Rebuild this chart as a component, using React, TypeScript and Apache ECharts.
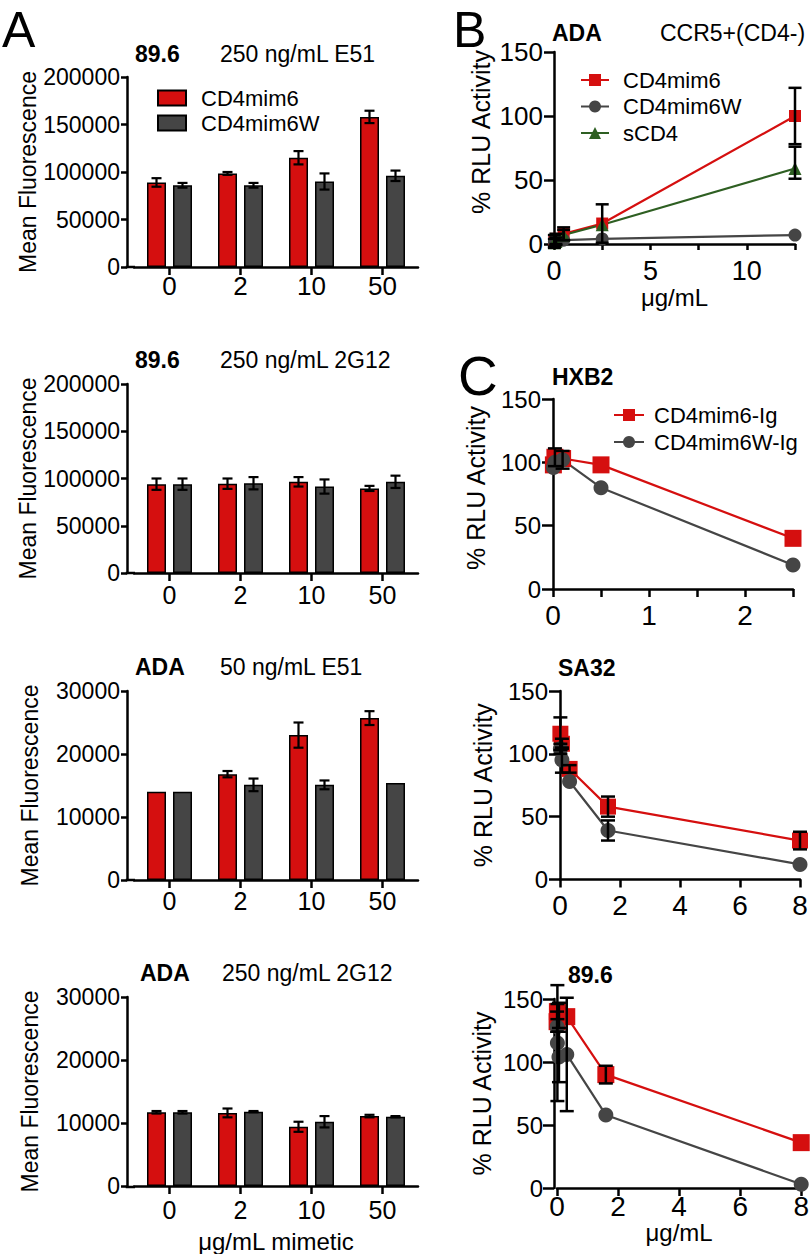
import React, { useEffect, useRef } from 'react';
import * as echarts from 'echarts';

const RED = '#d50f0f';
const GRAY = '#454545';
const GREEN = '#2e5f22';
const FONT = 'Liberation Sans, Arial, Helvetica, sans-serif';

// ---------- Panel A (bar charts) ----------
const doseCats = ['0', '2', '10', '50'];
const a1Mim6 = [89000, 98500, 115000, 158000];
const a1Mim6Err = [4500, 1500, 7000, 6500];
const a1Mim6W = [86000, 86000, 90000, 96000];
const a1Mim6WErr = [2500, 2500, 8500, 5500];

const a2Mim6 = [94000, 94500, 96500, 89500];
const a2Mim6Err = [6000, 5500, 5000, 2700];
const a2Mim6W = [94000, 95000, 91500, 96500];
const a2Mim6WErr = [6000, 6500, 7500, 6500];

const a3Mim6 = [14000, 16800, 23000, 25700];
const a3Mim6Err = [0, 500, 2000, 1100];
const a3Mim6W = [14000, 15100, 15100, 15400];
const a3Mim6WErr = [0, 1000, 700, 0];

const a4Mim6 = [11700, 11600, 9400, 11100];
const a4Mim6Err = [200, 700, 800, 200];
const a4Mim6W = [11700, 11800, 10200, 11000];
const a4Mim6WErr = [200, 100, 900, 100];

// ---------- Panel B ----------
const bX = [0.02, 0.1, 0.5, 2.5, 12.5];
const bMim6 = [2, 4, 8, 16, 100];
const bMim6Err = [5, 4, 5, 15, 22];
const bMim6W = [2, 2, 3, 4, 7];
const bMim6WErr = [0, 0, 0, 0, 0];
const bSCD4 = [1, 2, 7, 15, 59];
const bSCD4Err = [3, 3, 4, 0, [8, 17]];

// ---------- Panel C ----------
const hxX = [0.004, 0.02, 0.1, 0.5, 2.5];
const hxMim6Ig = [98, 104, 103, 98, 40];
const hxMim6IgErr = [0, 7, 0, 0, 0];
const hxMim6WIg = [96, 100, 102, 80, 19];
const hxMim6WIgErr = [0, 0, 7, 0, 0];

const saX = [0.0128, 0.064, 0.32, 1.6, 8];
const saMim6Ig = [116, 108, 88, 58, 31];
const saMim6IgErr = [13, 4, 3, 8, 7];
const saMim6WIg = [104, 95, 78, 39, 12];
const saMim6WIgErr = [4, 10, 0, 8, 0];

const c3X = [0.00256, 0.0128, 0.064, 0.32, 1.6, 8];
const c3Mim6Ig = [132, 140, 137, 136, 90, 36];
const c3Mim6IgErr = [8, 6, 10, 0, 7, 0];
const c3Mim6WIg = [128, 115, 104, 106, 58, 3];
const c3Mim6WIgErr = [0, 46, 20, 45, 0, 0];

// ---------- styling / layout ----------
const AX = { color: '#000', width: 2.5 };
const BAR_W = 19;
const BAR_GAP = 7;

function errPair(e: any): [number, number] {
  if (Array.isArray(e)) return [e[0], e[1]];
  return [e, e];
}

function yAxisCfg(gridIndex: number, o: any) {
  return {
    type: 'value',
    gridIndex,
    min: o.min,
    max: o.max,
    interval: o.interval,
    offset: o.offset || 0,
    name: o.name,
    nameLocation: 'middle',
    nameGap: o.nameGap,
    nameTextStyle: { fontSize: o.nameFs, fontFamily: FONT, color: '#000', padding: o.namePad || 0 },
    axisLine: { show: true, onZero: false, lineStyle: AX },
    axisTick: { show: true, length: o.tickLen, lineStyle: AX },
    axisLabel: {
      fontSize: o.fs,
      fontFamily: FONT,
      color: '#000',
      margin: o.margin,
      formatter: (v: number) => String(v),
    },
    splitLine: { show: false },
  };
}

function catXAxis(gridIndex: number, o: any) {
  return {
    type: 'category',
    gridIndex,
    data: doseCats,
    name: o.name || '',
    nameLocation: 'middle',
    nameGap: o.nameGap || 0,
    nameTextStyle: { fontSize: 24, fontFamily: FONT, color: '#000' },
    axisLine: { show: true, onZero: false, lineStyle: AX },
    axisTick: { show: true, alignWithLabel: true, length: 8, lineStyle: AX },
    axisLabel: { fontSize: o.fs, fontFamily: FONT, color: '#000', margin: o.margin },
    splitLine: { show: false },
  };
}

function valXAxis(gridIndex: number, o: any) {
  return {
    type: 'value',
    gridIndex,
    min: o.min,
    max: o.max,
    interval: o.interval,
    name: o.name || '',
    nameLocation: 'middle',
    nameGap: o.nameGap || 0,
    nameTextStyle: { fontSize: 24, fontFamily: FONT, color: '#000' },
    axisLine: { show: true, onZero: false, lineStyle: AX },
    axisTick: { show: true, length: o.tickLen, lineStyle: AX },
    axisLabel: {
      fontSize: o.fs,
      fontFamily: FONT,
      color: '#000',
      margin: o.margin,
      formatter: (v: number) => (Math.abs(v / o.labelEvery - Math.round(v / o.labelEvery)) < 1e-6 ? String(v) : ''),
    },
    splitLine: { show: false },
  };
}

function barSeries(name: string, idx: number, vals: number[], color: string) {
  return {
    type: 'bar',
    name,
    xAxisIndex: idx,
    yAxisIndex: idx,
    data: vals,
    barWidth: BAR_W,
    barGap: (BAR_GAP / BAR_W) * 100 + '%',
    itemStyle: { color, borderColor: '#000', borderWidth: 1.5 },
    z: 2,
  };
}

function barErr(idx: number, vals: number[], errs: number[], side: number) {
  const off = (side * (BAR_W + BAR_GAP)) / 2;
  return {
    type: 'custom',
    xAxisIndex: idx,
    yAxisIndex: idx,
    silent: true,
    z: 5,
    data: vals.map((v, i) => [i, v, errs[i]]),
    renderItem: (_p: any, api: any) => {
      const c = api.value(0);
      const v = api.value(1);
      const e = api.value(2);
      if (!e) return null;
      const t = api.coord([c, v + e]);
      const b = api.coord([c, v - e]);
      const x = t[0] + off;
      const st = { stroke: '#000', lineWidth: 2.2 };
      const h = 5;
      return {
        type: 'group',
        children: [
          { type: 'line', shape: { x1: x, y1: t[1], x2: x, y2: b[1] }, style: st },
          { type: 'line', shape: { x1: x - h, y1: t[1], x2: x + h, y2: t[1] }, style: st },
          { type: 'line', shape: { x1: x - h, y1: b[1], x2: x + h, y2: b[1] }, style: st },
        ],
      };
    },
  };
}

function lineSeries(name: string, idx: number, xs: number[], ys: number[], color: string, symbol: string, size: number) {
  return {
    type: 'line',
    name,
    xAxisIndex: idx,
    yAxisIndex: idx,
    data: xs.map((x, i) => [x, ys[i]]),
    symbol,
    symbolSize: size,
    showAllSymbol: true,
    itemStyle: { color, opacity: 1 },
    lineStyle: { color, width: 2.2 },
    z: 3,
  };
}

function lineErr(idx: number, xs: number[], ys: number[], errs: any[], cap: number) {
  const data: any[] = [];
  xs.forEach((x, i) => {
    const [d, u] = errPair(errs[i]);
    if (d || u) data.push([x, ys[i], ys[i] - d, ys[i] + u]);
  });
  return {
    type: 'custom',
    xAxisIndex: idx,
    yAxisIndex: idx,
    silent: true,
    z: 6,
    clip: false,
    data,
    renderItem: (_p: any, api: any) => {
      const x = api.value(0);
      const lo = api.value(2);
      const hi = api.value(3);
      const t = api.coord([x, hi]);
      const b = api.coord([x, lo]);
      const st = { stroke: '#000', lineWidth: 2.5 };
      const h = cap / 2;
      return {
        type: 'group',
        children: [
          { type: 'line', shape: { x1: t[0], y1: t[1], x2: b[0], y2: b[1] }, style: st },
          { type: 'line', shape: { x1: t[0] - h, y1: t[1], x2: t[0] + h, y2: t[1] }, style: st },
          { type: 'line', shape: { x1: b[0] - h, y1: b[1], x2: b[0] + h, y2: b[1] }, style: st },
        ],
      };
    },
  };
}

function txt(text: string, x: number, y: number, size: number, bold = false) {
  return {
    type: 'text',
    x,
    y,
    silent: true,
    style: {
      text,
      fill: '#000',
      fontSize: size,
      fontWeight: bold ? 'bold' : 'normal',
      fontFamily: FONT,
      verticalAlign: 'middle',
      align: 'left',
    },
  };
}

export default function App() {
  const ref = useRef<HTMLDivElement>(null);

  useEffect(() => {
    if (!ref.current) return;
    const chart = echarts.init(ref.current, undefined, { renderer: 'svg' });

    // grids: 0..3 panel A, 4 panel B, 5..7 panel C
    const grid = [
      { left: 134, top: 77, width: 284, height: 190 },
      { left: 134, top: 384, width: 284, height: 189 },
      { left: 134, top: 691, width: 284, height: 189 },
      { left: 134, top: 997, width: 284, height: 190 },
      { left: 554, top: 52, width: 241, height: 192 },
      { left: 553, top: 399, width: 240, height: 190 },
      { left: 560, top: 691, width: 240, height: 188.5 },
      { left: 557, top: 999, width: 246, height: 189 },
    ];

    const mf = 'Mean Fluorescence';
    const rlu = '% RLU Activity';
    const yAxis = [
      yAxisCfg(0, { min: 0, max: 200000, interval: 50000, offset: 7, name: mf, nameGap: 86, nameFs: 23, fs: 23, tickLen: 6, margin: 7 }),
      yAxisCfg(1, { min: 0, max: 200000, interval: 50000, offset: 7, name: mf, nameGap: 86, nameFs: 23, fs: 23, tickLen: 6, margin: 7 }),
      yAxisCfg(2, { min: 0, max: 30000, interval: 10000, offset: 7, name: mf, nameGap: 86, nameFs: 23, fs: 23, tickLen: 6, margin: 7 }),
      yAxisCfg(3, { min: 0, max: 30000, interval: 10000, offset: 7, name: mf, nameGap: 86, nameFs: 23, fs: 23, tickLen: 6, margin: 7 }),
      yAxisCfg(4, { min: 0, max: 150, interval: 50, name: rlu, nameGap: 61, nameFs: 25, fs: 26, tickLen: 10, margin: 11, namePad: [0, 0, 0, 32] }),
      yAxisCfg(5, { min: 0, max: 150, interval: 50, name: rlu, nameGap: 65, nameFs: 25, fs: 24, tickLen: 11, margin: 12, namePad: [0, 0, 0, 12] }),
      yAxisCfg(6, { min: 0, max: 150, interval: 50, name: rlu, nameGap: 65, nameFs: 25, fs: 24, tickLen: 11, margin: 12 }),
      yAxisCfg(7, { min: 0, max: 150, interval: 50, offset: 3, name: rlu, nameGap: 60, nameFs: 25, fs: 24, tickLen: 11, margin: 11 }),
    ];

    const xAxis = [
      catXAxis(0, { fs: 26, margin: 6 }),
      catXAxis(1, { fs: 25, margin: 9 }),
      catXAxis(2, { fs: 25, margin: 8 }),
      catXAxis(3, { fs: 25, margin: 11, name: 'μg/mL mimetic', nameGap: 43 }),
      valXAxis(4, { min: 0, max: 12.5, interval: 2.5, labelEvery: 5, fs: 27, margin: 13, tickLen: 6, name: 'μg/mL', nameGap: 41 }),
      valXAxis(5, { min: 0, max: 2.5, interval: 0.5, labelEvery: 1, fs: 28, margin: 12, tickLen: 8 }),
      valXAxis(6, { min: 0, max: 8, interval: 2, labelEvery: 2, fs: 28, margin: 12, tickLen: 8 }),
      valXAxis(7, { min: 0, max: 8, interval: 2, labelEvery: 2, fs: 28, margin: 4, tickLen: 8, name: 'μg/mL', nameGap: 32 }),
    ];

    const series: any[] = [
      barSeries('CD4mim6', 0, a1Mim6, RED),
      barSeries('CD4mim6W', 0, a1Mim6W, GRAY),
      barSeries('CD4mim6', 1, a2Mim6, RED),
      barSeries('CD4mim6W', 1, a2Mim6W, GRAY),
      barSeries('CD4mim6', 2, a3Mim6, RED),
      barSeries('CD4mim6W', 2, a3Mim6W, GRAY),
      barSeries('CD4mim6', 3, a4Mim6, RED),
      barSeries('CD4mim6W', 3, a4Mim6W, GRAY),
      barErr(0, a1Mim6, a1Mim6Err, -1),
      barErr(0, a1Mim6W, a1Mim6WErr, 1),
      barErr(1, a2Mim6, a2Mim6Err, -1),
      barErr(1, a2Mim6W, a2Mim6WErr, 1),
      barErr(2, a3Mim6, a3Mim6Err, -1),
      barErr(2, a3Mim6W, a3Mim6WErr, 1),
      barErr(3, a4Mim6, a4Mim6Err, -1),
      barErr(3, a4Mim6W, a4Mim6WErr, 1),

      lineSeries('B|CD4mim6', 4, bX, bMim6, RED, 'rect', 12),
      lineSeries('B|CD4mim6W', 4, bX, bMim6W, GRAY, 'circle', 13),
      lineSeries('B|sCD4', 4, bX, bSCD4, GREEN, 'triangle', 13),
      lineErr(4, bX, bMim6, bMim6Err, 13),
      lineErr(4, bX, bMim6W, bMim6WErr, 13),
      lineErr(4, bX, bSCD4, bSCD4Err, 13),

      lineSeries('CD4mim6-Ig', 5, hxX, hxMim6Ig, RED, 'rect', 17),
      lineSeries('CD4mim6W-Ig', 5, hxX, hxMim6WIg, GRAY, 'circle', 15),
      lineErr(5, hxX, hxMim6Ig, hxMim6IgErr, 14),
      lineErr(5, hxX, hxMim6WIg, hxMim6WIgErr, 14),

      lineSeries('CD4mim6-Ig', 6, saX, saMim6Ig, RED, 'rect', 16),
      lineSeries('CD4mim6W-Ig', 6, saX, saMim6WIg, GRAY, 'circle', 15),
      lineErr(6, saX, saMim6Ig, saMim6IgErr, 14),
      lineErr(6, saX, saMim6WIg, saMim6WIgErr, 14),

      lineSeries('CD4mim6-Ig', 7, c3X, c3Mim6Ig, RED, 'rect', 17),
      lineSeries('CD4mim6W-Ig', 7, c3X, c3Mim6WIg, GRAY, 'circle', 15),
      lineErr(7, c3X, c3Mim6Ig, c3Mim6IgErr, 14),
      lineErr(7, c3X, c3Mim6WIg, c3Mim6WIgErr, 14),
    ];

    const legendText = { fontSize: 22, fontFamily: FONT, color: '#000' };
    const legend = [
      {
        data: ['CD4mim6', 'CD4mim6W'],
        left: 157,
        top: 87,
        orient: 'vertical',
        icon: 'rect',
        itemWidth: 28,
        itemHeight: 15,
        itemGap: 3,
        padding: 0,
        selectedMode: false,
        textStyle: { ...legendText, padding: [0, 0, 0, 10] },
      },
      {
        data: ['B|CD4mim6', 'B|CD4mim6W', 'B|sCD4'],
        formatter: (n: string) => n.split('|')[1],
        left: 580,
        top: 69,
        orient: 'vertical',
        itemWidth: 28,
        itemHeight: 15,
        itemGap: 4.5,
        padding: 0,
        selectedMode: false,
        textStyle: { ...legendText, padding: [0, 0, 0, 9] },
      },
      {
        data: ['CD4mim6-Ig', 'CD4mim6W-Ig'],
        left: 613,
        top: 404,
        orient: 'vertical',
        itemWidth: 30,
        itemHeight: 15,
        itemGap: 5,
        padding: 0,
        selectedMode: false,
        textStyle: { ...legendText, padding: [0, 0, 0, 5] },
      },
    ];

    const cornerLine = (y: number) => ({
      type: 'line',
      silent: true,
      shape: { x1: 125.75, y1: y, x2: 135, y2: y },
      style: { stroke: '#000', lineWidth: 2.5 },
    });

    const graphic = [
      txt('A', 2, 30, 50),
      txt('B', 453, 30, 50),
      txt('C', 458, 376, 55),
      txt('89.6', 135, 54, 23, true),
      txt('250 ng/mL E51', 220, 54, 23),
      txt('89.6', 135, 360, 23, true),
      txt('250 ng/mL 2G12', 220, 360, 23),
      txt('ADA', 135, 667, 23, true),
      txt('50 ng/mL E51', 220, 667, 23),
      txt('ADA', 140, 973, 23, true),
      txt('250 ng/mL 2G12', 222, 973, 23),
      txt('ADA', 552, 33, 23, true),
      txt('CCR5+(CD4-)', 660, 33, 23),
      txt('HXB2', 552, 377, 23, true),
      txt('SA32', 558, 668, 23, true),
      txt('89.6', 568, 975, 23, true),
      cornerLine(267),
      cornerLine(573),
      cornerLine(880),
      cornerLine(1187),
    ];

    chart.setOption({
      animation: false,
      backgroundColor: '#fff',
      textStyle: { fontFamily: FONT },
      grid,
      xAxis,
      yAxis,
      legend,
      series,
      graphic,
    } as any);

    return () => chart.dispose();
  }, []);

  return (
    <div
      ref={ref}
      style={{ position: 'fixed', left: 0, top: 0, width: 812, height: 1254, background: '#fff' }}
    />
  );
}
